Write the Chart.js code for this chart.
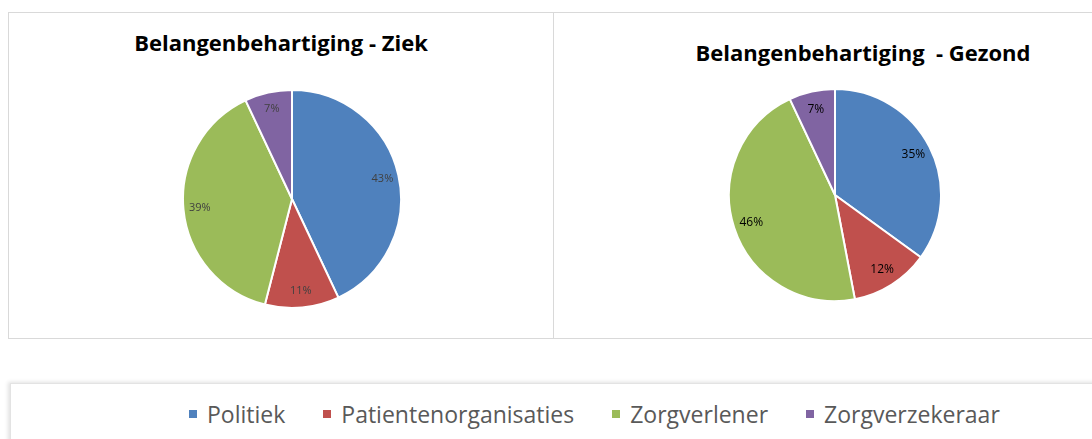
<!DOCTYPE html>
<html>
<head>
<meta charset="utf-8">
<script src="https://cdn.jsdelivr.net/npm/chart.js@4"></script>
<style>
  body { margin: 0; background: #fff; width: 1092px; height: 439px; overflow: hidden; position: relative; font-family: "Open Sans", sans-serif; }
  .box { position: absolute; border: 1px solid #d9d9d9; background: #fff; box-sizing: border-box; }
  .title { position: absolute; font-family: "Open Sans", sans-serif; font-weight: 700; font-size: 22px; line-height: 30px; color: #000; white-space: pre; transform: translateX(-50%); }
  .pie { position: absolute; }
  #legend { position: absolute; left: 10px; top: 383px; width: 1100px; height: 80px; border: 1px solid #e3e3e3; box-shadow: -2px -1px 4px rgba(0,0,0,0.12); background: #fff; }
  #legend .items { position: absolute; left: 178px; top: 14px; display: flex; gap: 38px; }
  #legend .item { display: flex; align-items: center; font-size: 23px; line-height: 32px; color: #595959; }
  #legend .sw { width: 8px; height: 8px; margin-right: 10px; }
</style>
</head>
<body>
<div class="box" style="left:8px; top:12px; width:547px; height:327px;"></div>
<div class="box" style="left:553px; top:12px; width:560px; height:327px;"></div>
<div class="title" id="t1" style="left:281px; top:27px;"></div>
<div class="title" id="t2" style="left:863px; top:37px;"></div>
<canvas class="pie" id="ziekChart" width="220" height="220" style="left:182px; top:89px; width:220px; height:220px;"></canvas>
<canvas class="pie" id="gezondChart" width="214" height="214" style="left:728px; top:88px; width:214px; height:214px;"></canvas>
<div id="legend"><div class="items" id="legendItems"></div></div>

<script>
// Data
const categories = ['Politiek', 'Patientenorganisaties', 'Zorgverlener', 'Zorgverzekeraar'];
const ziekValues = [43, 11, 39, 7];
const gezondValues = [35, 12, 46, 7];
const colors = ['#4F81BD', '#C0504D', '#9BBB59', '#8064A2'];
const titleZiek = 'Belangenbehartiging - Ziek';
const titleGezond = 'Belangenbehartiging  - Gezond';

document.getElementById('t1').textContent = titleZiek;
document.getElementById('t2').textContent = titleGezond;

// Legend
const legendItems = document.getElementById('legendItems');
categories.forEach((cat, i) => {
    const item = document.createElement('div');
    item.className = 'item';
    const sw = document.createElement('span');
    sw.className = 'sw';
    sw.style.background = colors[i];
    item.appendChild(sw);
    item.appendChild(document.createTextNode(cat));
    legendItems.appendChild(item);
});

// labels on the slices, placed near the outer edge like Excel does
const sliceLabels = {
    id: 'sliceLabels',
    afterDatasetsDraw(chart, args, opts) {
        const ctx = chart.ctx;
        const meta = chart.getDatasetMeta(0);
        const data = chart.data.datasets[0].data;
        ctx.save();
        ctx.font = opts.font;
        ctx.fillStyle = opts.color;
        ctx.textAlign = 'center';
        ctx.textBaseline = 'middle';
        meta.data.forEach((arc, i) => {
            const p = arc.getProps(['x', 'y', 'startAngle', 'endAngle', 'outerRadius'], true);
            const mid = (p.startAngle + p.endAngle) / 2;
            const r = p.outerRadius * opts.pos;
            ctx.fillText(data[i] + '%', p.x + Math.cos(mid) * r, p.y + Math.sin(mid) * r);
        });
        ctx.restore();
    }
};

function createPie(id, values, labelColor, labelFont, pos) {
    const ctx = document.getElementById(id).getContext('2d');
    new Chart(ctx, {
        type: 'pie',
        data: {
            labels: categories,
            datasets: [{
                data: values,
                backgroundColor: colors,
                borderColor: '#ffffff',
                borderWidth: 2
            }]
        },
        options: {
            responsive: false,
            animation: false,
            layout: { padding: 0 },
            plugins: {
                legend: { display: false },
                tooltip: { enabled: false },
                sliceLabels: { color: labelColor, font: labelFont, pos: pos }
            }
        },
        plugins: [sliceLabels]
    });
}

createPie('ziekChart', ziekValues, '#404040', '11px "Open Sans", sans-serif', 0.85);
createPie('gezondChart', gezondValues, '#000000', '12px "Open Sans", sans-serif', 0.83);
</script>
</body>
</html>
